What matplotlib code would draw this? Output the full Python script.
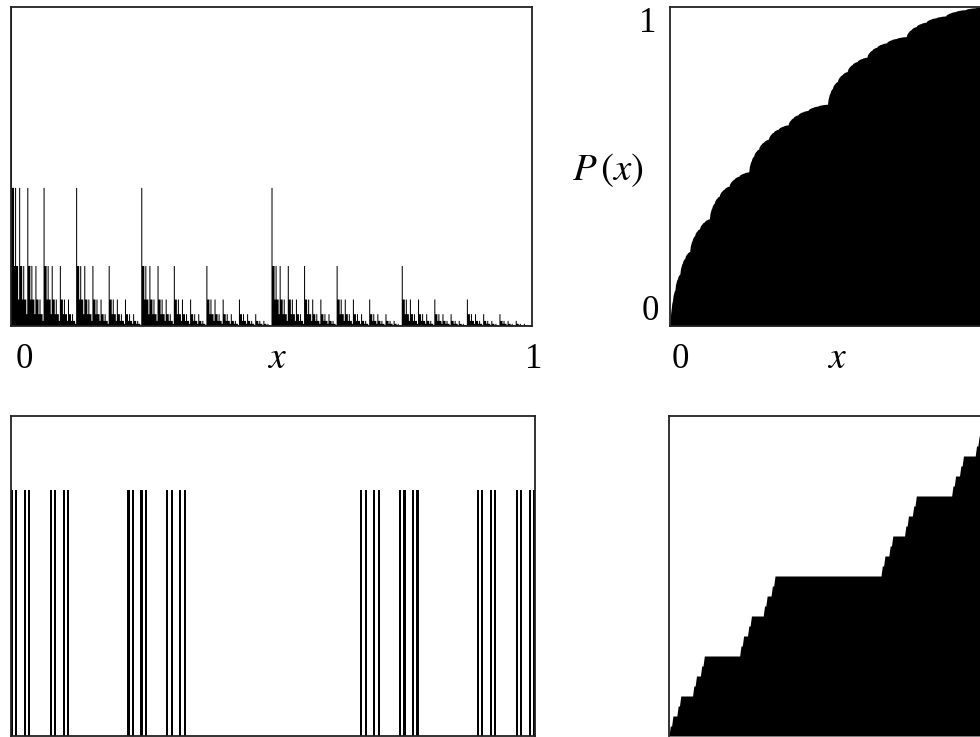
import matplotlib
matplotlib.use("Agg")
import matplotlib.pyplot as plt
import numpy as np

W, H = 980, 737

# top-left: fine histogram, bin height set by number of 1s in the bin's binary index
bin_bits = 9
level_heights = [1.0, 0.433, 0.188, 0.083, 0.037, 0.016, 0.0068, 0.0029, 0.0013, 0.00055]

# bottom-left: Cantor set strips (level 4 starts in 1/81, sub strips in 1/243)
cantor_starts_81 = [0, 2, 6, 8, 18, 20, 24, 26, 54, 56, 60, 62, 72, 74, 78, 80]
sub_offsets_243 = [0, 2]
cantor_bar_height = 0.77

tick_lo, tick_hi = "0", "1"


def box(x0, y0, x1, y1):
    # pixel box -> figure fraction [l, b, w, h]
    return [x0 / W, 1 - y1 / H, (x1 - x0) / W, (y1 - y0) / H]


def ftext(x, y, s, **kw):
    fig.text(x / W, 1 - y / H, s, **kw)


def style(ax, hide_bottom=False):
    ax.set_xlim(0, 1)
    ax.set_ylim(0, 1)
    ax.set_xticks([])
    ax.set_yticks([])
    for sp in ax.spines.values():
        sp.set_color("#222222")
        sp.set_linewidth(1.3)
    if hide_bottom:
        ax.spines["bottom"].set_visible(False)


plt.rcParams["mathtext.fontset"] = "stix"
serif = {"family": "Liberation Serif", "size": 25}

fig = plt.figure(figsize=(W / 100, H / 100), dpi=100)
fig.patch.set_facecolor("white")

# --- top left: histogram
n_bins = 2 ** bin_bits
ones = np.array([bin(i).count("1") for i in range(n_bins)])
heights = np.array(level_heights)[ones]
edges = np.linspace(0, 1, n_bins + 1)

ax1 = fig.add_axes(box(11, 7, 532, 326))
ax1.stairs(heights, edges, fill=True, color="black", linewidth=0)
style(ax1)

# --- top right: cumulative P(x)
P = np.concatenate([[0], np.cumsum(heights)])
P = P / P[-1]
ax2 = fig.add_axes(box(670, 7, 985, 326))
ax2.fill_between(edges, P, 0, color="black", linewidth=0)
style(ax2)

# --- bottom left: Cantor strips
strip_w = 1 / 243
lefts = sorted(3 * s + o for s in cantor_starts_81 for o in sub_offsets_243)
lefts = np.array(lefts) * strip_w
ax3 = fig.add_axes(box(11, 416, 535, 736))
ax3.bar(lefts, [cantor_bar_height] * len(lefts), width=strip_w, align="edge",
        color="black", linewidth=0)
style(ax3)

# --- bottom right: Cantor staircase from the strips above
xs, ys = [0.0], [0.0]
c = 0.0
step = 1 / len(lefts)
for L in lefts:
    xs += [L, L + strip_w]
    ys += [c, c + step]
    c += step
xs.append(1.0)
ys.append(1.0)
ax4 = fig.add_axes(box(669, 416, 987, 736))
ax4.fill_between(xs, ys, 0, color="black", linewidth=0)
style(ax4, hide_bottom=True)

# labels
ftext(24, 368, tick_lo, ha="center", va="baseline", **serif)
ftext(534, 368, tick_hi, ha="center", va="baseline", **serif)
ftext(277, 368, r"$x$", ha="center", va="baseline", fontsize=27)
ftext(680, 368, tick_lo, ha="center", va="baseline", **serif)
ftext(988, 368, tick_hi, ha="center", va="baseline", **serif)
ftext(837, 368, r"$x$", ha="center", va="baseline", fontsize=27)
ftext(648, 32, tick_hi, ha="center", va="baseline", **serif)
ftext(650, 320, tick_lo, ha="center", va="baseline", **serif)
ftext(608, 170, r"$P\,(x)$", ha="center", va="center", fontsize=28)

fig.savefig("out.png", dpi=100, facecolor="white")
